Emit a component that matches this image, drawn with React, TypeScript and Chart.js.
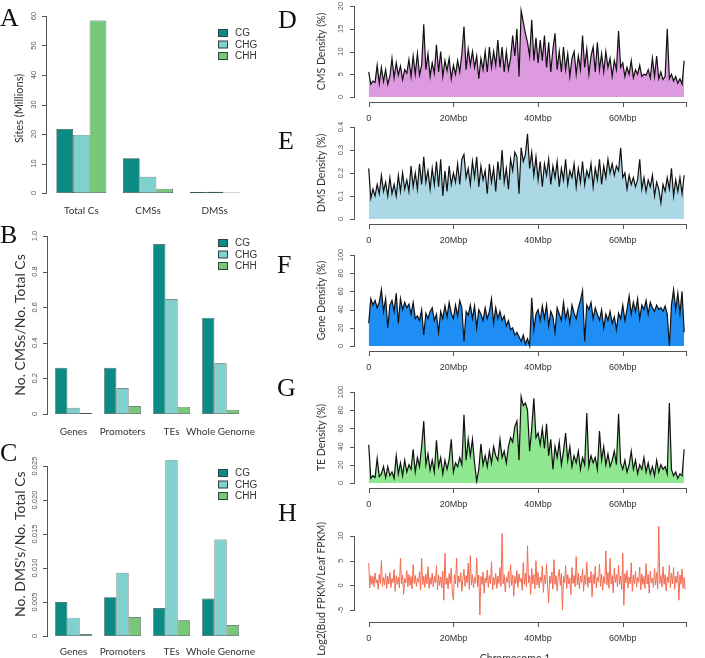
import React, { useEffect, useRef, useState } from "react";
import { Chart, registerables } from "chart.js";
Chart.register(...registerables);

// ---------- shared ----------
const SERIES_LABELS = ["CG", "CHG", "CHH"];
const SERIES_COLORS = ["#0b8b84", "#80d0cd", "#78c878"];
const BAR_BORDER = "#3d5654";
const AXIS_COLOR = "#555";
const TEXT_COLOR = "#333";
const BIN_MBP = 0.5;
const H_BIN_MBP = 0.25;

// ---------- panel A ----------
const A_CATEGORIES = ["Total Cs", "CMSs", "DMSs"];
const A_CG = [21.7, 11.8, 0.3];
const A_CHG = [19.7, 5.5, 0.4];
const A_CHH = [58.5, 1.4, 0.2];
const A_TICKS = [0, 10, 20, 30, 40, 50, 60];
const A_TICK_LABELS = ["0", "10", "20", "30", "40", "50", "60"];

// ---------- panel B ----------
const B_CATEGORIES = ["Genes", "Promoters", "TEs", "Whole Genome"];
const B_CG = [0.26, 0.26, 0.955, 0.54];
const B_CHG = [0.035, 0.146, 0.646, 0.285];
const B_CHH = [0.006, 0.045, 0.04, 0.024];
const B_TICKS = [0, 0.2, 0.4, 0.6, 0.8, 1.0];
const B_TICK_LABELS = ["0", "0.2", "0.4", "0.6", "0.8", "1.0"];

// ---------- panel C ----------
const C_CATEGORIES = ["Genes", "Promoters", "TEs", "Whole Genome"];
const C_CG = [0.005, 0.0057, 0.0041, 0.0055];
const C_CHG = [0.0027, 0.0093, 0.0259, 0.0142];
const C_CHH = [0.0003, 0.0028, 0.0023, 0.0016];
const C_TICKS = [0, 0.005, 0.01, 0.015, 0.02, 0.025];
const C_TICK_LABELS = ["0", "0.005", "0.010", "0.015", "0.020", "0.025"];

// ---------- chromosome x axis ----------
const X_TICKS = [0, 20, 40, 60, 75];
const X_TICK_LABELS = ["0", "20Mbp", "40Mbp", "60Mbp", ""];

// ---------- panel D: CMS density ----------
const D_VALUES = [
  5.5, 2.8, 3.5, 3.2, 7.0, 3.0, 6.5, 3.4, 6.0, 2.8,
  4.5, 8.5, 4.2, 7.5, 4.8, 6.8, 3.8, 6.0, 5.2, 8.2,
  4.5, 9.0, 5.0, 9.5, 4.8, 7.0, 16.0, 6.0, 9.5, 4.5,
  7.5, 5.2, 11.5, 5.5, 10.0, 4.5, 8.0, 5.8, 8.5, 4.0,
  7.0, 5.0, 8.0, 5.5, 9.5, 15.5, 6.0, 10.5, 7.0, 10.0,
  6.5, 9.0, 4.0, 8.5, 6.0, 10.0, 5.5, 11.0, 6.5, 10.0,
  7.0, 12.5, 6.5, 11.0, 5.5, 10.0, 6.0, 8.5, 13.5, 9.0,
  15.0, 4.5, 19.0, 16.5, 14.0, 12.0, 9.0, 17.0, 8.0, 13.0,
  7.5, 12.5, 8.0, 13.5, 6.5, 12.0, 5.5, 10.5, 14.0, 6.0,
  10.0, 5.5, 11.0, 6.0, 9.5, 4.5, 8.5, 10.0, 5.0, 9.0,
  6.0, 13.5, 6.5, 10.5, 5.0, 9.0, 11.0, 5.5, 12.0, 6.0,
  9.5, 5.5, 10.0, 6.5, 8.5, 4.5, 8.0, 6.0, 14.5, 6.5,
  7.5, 4.5, 6.5, 5.0, 8.0, 4.2, 6.0, 5.0, 7.0, 4.5,
  5.0, 4.8, 6.0, 4.2, 8.5, 4.5, 9.0, 4.0, 5.5, 3.8,
  4.5, 15.0, 4.0, 5.0, 3.5, 4.5, 3.0, 4.0, 2.8, 8.0,
];
const D_TICKS = [0, 5, 10, 15, 20];
const D_TICK_LABELS = ["0", "5", "10", "15", "20"];

// ---------- panel E: DMS density ----------
const E_VALUES = [
  0.22, 0.09, 0.13, 0.10, 0.15, 0.11, 0.19, 0.12, 0.16, 0.10,
  0.18, 0.11, 0.15, 0.10, 0.19, 0.12, 0.20, 0.13, 0.17, 0.12,
  0.23, 0.14, 0.20, 0.13, 0.24, 0.15, 0.27, 0.16, 0.21, 0.13,
  0.22, 0.15, 0.25, 0.14, 0.26, 0.10, 0.21, 0.12, 0.23, 0.15,
  0.20, 0.16, 0.24, 0.15, 0.26, 0.28, 0.18, 0.22, 0.15, 0.25,
  0.18, 0.27, 0.14, 0.23, 0.17, 0.21, 0.11, 0.24, 0.16, 0.22,
  0.12, 0.25, 0.17, 0.30, 0.16, 0.22, 0.13, 0.26, 0.21, 0.29,
  0.27, 0.11, 0.31, 0.25, 0.28, 0.37, 0.22, 0.29, 0.19, 0.27,
  0.17, 0.25, 0.14, 0.24, 0.19, 0.26, 0.15, 0.23, 0.18, 0.25,
  0.14, 0.22, 0.17, 0.26, 0.15, 0.21, 0.18, 0.24, 0.14, 0.22,
  0.16, 0.25, 0.15, 0.21, 0.18, 0.24, 0.14, 0.22, 0.17, 0.26,
  0.15, 0.23, 0.18, 0.26, 0.20, 0.24, 0.19, 0.23, 0.21, 0.31,
  0.18, 0.20, 0.13, 0.19, 0.15, 0.18, 0.14, 0.17, 0.26, 0.13,
  0.18, 0.12, 0.17, 0.14, 0.19, 0.10, 0.16, 0.13, 0.07, 0.15,
  0.12, 0.18, 0.13, 0.22, 0.10, 0.17, 0.12, 0.18, 0.11, 0.19,
];
const E_TICKS = [0, 0.1, 0.2, 0.3, 0.4];
const E_TICK_LABELS = ["0", "0.1", "0.2", "0.3", "0.4"];

// ---------- panel F: gene density ----------
const F_VALUES = [
  25, 52, 45, 50, 42, 48, 62, 38, 52, 20,
  45, 50, 38, 58, 25, 52, 40, 48, 42, 46,
  35, 48, 30, 33, 28, 40, 12, 36, 30, 38,
  42, 28, 35, 15, 38, 30, 44, 32, 48, 36,
  30, 45, 33, 50, 42, 5, 38, 34, 45, 30,
  44, 20, 40, 35, 28, 42, 30, 38, 52, 25,
  42, 30, 38, 28, 33, 22, 28, 18, 20, 12,
  15, 10, 5, 12, 2, 8, 0, 53, 18, 35,
  40, 28, 44, 30, 45, 22, 38, 32, 15, 42,
  35, 28, 48, 30, 40, 25, 45, 36, 30, 42,
  50, 61, 5, 45, 40, 48, 30, 42, 35, 28,
  40, 20, 35, 28, 38, 25, 32, 18, 36, 30,
  45, 28, 40, 55, 35, 48, 38, 52, 30, 45,
  40, 50, 35, 48, 42, 38, 45, 40, 42, 38,
  44, 35, 0, 45, 62, 40, 58, 36, 60, 15,
];
const F_TICKS = [0, 20, 40, 60, 80, 100];
const F_TICK_LABELS = ["0", "20", "40", "60", "80", "100"];

// ---------- panel G: TE density ----------
const G_VALUES = [
  42, 5, 8, 6, 27, 7, 10, 18, 6, 18,
  8, 12, 5, 30, 10, 22, 8, 25, 12, 20,
  15, 37, 12, 28, 18, 40, 68, 20, 32, 14,
  25, 12, 47, 18, 28, 10, 25, 15, 26, 48,
  12, 22, 18, 28, 20, 75, 25, 48, 30, 48,
  22, 2, 15, 43, 20, 30, 18, 35, 22, 40,
  30, 25, 48, 28, 35, 22, 40, 50, 45, 62,
  68, 25, 95, 85, 88, 80, 35, 60, 93, 50,
  55, 42, 60, 38, 65, 30, 48, 15, 40, 28,
  45, 20, 35, 55, 25, 40, 18, 30, 22, 35,
  15, 28, 20, 77, 18, 30, 22, 28, 15, 57,
  25, 40, 20, 32, 18, 25, 35, 20, 76, 22,
  15, 25, 12, 20, 35, 15, 25, 10, 20, 15,
  28, 12, 22, 10, 18, 8, 25, 12, 20, 15,
  18, 10, 88, 15, 8, 12, 5, 10, 8, 37,
];
const G_TICKS = [0, 20, 40, 60, 80, 100];
const G_TICK_LABELS = ["0", "20", "40", "60", "80", "100"];

// ---------- panel H: log2 fold change ----------
const H_VALUES = [
  4.5, -0.5, 2.0, 0.2, 1.8, -0.3, 2.5, 0.5, 1.2, -0.8, 2.2, 0.4, 5.0, -0.2, 1.6, 0.1, 2.4, -0.6, 1.9, 0.3,
  2.6, -0.4, 1.5, 0.6, 3.2, -1.2, 2.0, 0.2, 1.7, -0.5, 5.5, 0.3, 2.1, -1.8, 1.4, 0.5, 3.0, -0.3, 2.2, 0.0,
  1.8, -0.7, 4.2, 0.4, 2.0, -0.2, 1.5, 0.6, 2.8, -1.0, 5.5, 0.1, 1.9, -0.4, 2.3, 0.3, 3.8, -0.6, 1.6, 0.2,
  2.5, -0.3, 1.8, 0.5, 4.0, -0.9, 2.1, 0.0, 1.7, -0.5, 2.9, -3.0, 6.5, 0.2, 1.5, -0.7, 2.4, 0.4, 3.5, -1.5,
  -3.0, 2.2, 0.3, 5.5, -0.4, 1.9, 0.6, 2.6, -1.2, 1.4, 3.3, -0.2, 2.0, 0.5, 4.5, -0.8, 6.0, 0.1, 2.2, -0.5,
  1.6, 0.4, 5.5, -0.3, 2.1, -6.0, 1.8, 0.2, 2.7, -1.6, 1.5, 0.5, 3.1, -0.4, 2.0, 0.3, 4.8, -0.9, 1.7, 0.1,
  2.4, -0.6, 1.9, 0.4, 3.6, -0.2, 10.5, 0.3, 2.2, -1.3, 1.6, 0.6, 2.8, -0.5, 4.2, 0.0, 2.1, -2.2, 1.8, 0.4,
  3.0, -0.4, 2.3, 0.7, 1.5, -1.0, 4.6, 0.2, 2.5, -0.3, 8.0, 0.5, 2.0, -1.8, 3.4, 0.3, 2.2, -0.7, 5.0, 0.1,
  2.6, -0.5, 1.7, 0.6, 3.9, -1.4, 2.1, 0.3, 4.4, -0.2, -3.5, 1.9, 0.4, 2.7, -0.8, 5.2, 0.2, 2.0, -1.1, 1.6,
  3.2, 0.0, 2.4, -5.0, 1.8, 0.5, 4.0, -0.6, 2.2, 0.3, 1.5, -1.9, 3.6, 0.4, 2.0, -0.3, 5.8, 0.1, 2.5, -0.7,
  1.9, 0.6, 3.3, -1.2, 2.1, 0.2, 4.7, -0.4, 1.7, 0.5, 2.8, -2.3, 2.2, 0.3, 3.9, -0.5, 1.6, 0.7, 4.3, -0.2,
  2.3, -1.0, 1.8, 0.4, 7.0, 0.1, 2.6, -0.6, 5.5, 0.3, 2.0, -1.5, 3.5, 0.6, 2.2, -0.3, 4.1, 0.2, 1.9, -0.8,
  6.5, -4.0, 2.4, 0.5, 3.0, -0.5, 1.7, 0.3, 4.6, -1.2, 2.1, 0.4, 2.8, -0.3, 1.6, 0.6, 3.7, -0.9, 2.3, 0.2,
  1.8, -0.6, 4.4, 0.3, 2.2, -1.6, 2.9, 0.5, 1.5, -0.4, 3.4, 0.1, 2.6, -0.7, 12.0, 0.4, 2.0, -0.3, 3.8, 0.2,
  2.2, -1.1, 1.7, 0.6, 4.1, -0.4, 2.5, 0.3, 3.6, -0.8, 1.9, 0.5, 2.8, -3.0, 2.1, 0.2, 3.3, -0.6, 1.6, -0.8,
];
const H_TICKS = [-5, 0, 5, 10];
const H_TICK_LABELS = ["-5", "0", "5", "10"];

// ---------- R-style axis line geometry, taken from the chart's own scales ----------
function axisSegments(chart: any, o: any) {
  const { chartArea: ca, scales } = chart;
  const xs = scales.x;
  const ys = scales.y;
  const segs: any[] = [];
  const ax = Math.round(ca.left) - 2;
  const yt: number[] = o.yTicks;
  const yA = Math.round(ys.getPixelForValue(yt[0]));
  const yB = Math.round(ys.getPixelForValue(yt[yt.length - 1]));
  segs.push({ left: ax, top: Math.min(yA, yB), width: 1, height: Math.abs(yA - yB) + 1 });
  yt.forEach((v) => {
    const p = Math.round(ys.getPixelForValue(v));
    segs.push({ left: ax - 4, top: p, width: 4, height: 1 });
  });
  if (o.xTicks) {
    const by = Math.round(ca.bottom) + 1;
    const xt: number[] = o.xTicks;
    const xA = Math.round(xs.getPixelForValue(xt[0]));
    const xB = Math.round(xs.getPixelForValue(xt[xt.length - 1]));
    segs.push({ left: xA, top: by, width: xB - xA + 1, height: 1 });
    xt.forEach((v) => {
      const p = Math.round(xs.getPixelForValue(v));
      segs.push({ left: p, top: by, width: 1, height: 5 });
    });
  }
  return segs;
}

// ---------- R-style text plugin ----------
const rStyle = {
  id: "rStyle",
  afterDraw(chart: any, _args: any, o: any) {
    const { ctx, chartArea: ca, scales } = chart;
    const xs = scales.x;
    const ys = scales.y;
    const ax = Math.round(ca.left) - 1.5;
    const yt: number[] = o.yTicks;
    ctx.save();

    ctx.fillStyle = "#555";
    ctx.font = o.tickFont;
    ctx.textAlign = "center";
    ctx.textBaseline = "middle";
    yt.forEach((v, i) => {
      ctx.save();
      ctx.translate(ax - o.tickGap, ys.getPixelForValue(v));
      ctx.rotate(-Math.PI / 2);
      ctx.fillText(o.yTickLabels[i], 0, 0);
      ctx.restore();
    });

    ctx.fillStyle = TEXT_COLOR;
    ctx.font = o.titleFont;
    ctx.save();
    ctx.translate(ax - o.titleGap, (ca.top + ca.bottom) / 2 + (o.titleShift || 0));
    ctx.rotate(-Math.PI / 2);
    ctx.fillText(o.yTitle, 0, 0);
    ctx.restore();

    if (o.xTicks) {
      const by = Math.round(ca.bottom) + 1;
      ctx.fillStyle = TEXT_COLOR;
      ctx.font = o.xTickFont;
      ctx.textAlign = "center";
      ctx.textBaseline = "middle";
      (o.xTicks as number[]).forEach((v, i) => {
        ctx.fillText(o.xTickLabels[i], xs.getPixelForValue(v), by + 17);
      });
    }

    if (o.categoryLabels) {
      ctx.fillStyle = TEXT_COLOR;
      ctx.font = o.categoryFont;
      ctx.textAlign = "center";
      ctx.textBaseline = "middle";
      const base = ys.getPixelForValue(0);
      o.categoryLabels.forEach((lab: string, i: number) => {
        ctx.fillText(lab, xs.getPixelForValue(i), base + o.categoryGap);
      });
    }

    if (o.legendX !== undefined) {
      ctx.font = "10px 'Liberation Sans', Arial, sans-serif";
      ctx.textAlign = "left";
      ctx.textBaseline = "middle";
      chart.data.datasets.forEach((ds: any, i: number) => {
        const cy = o.legendY + i * 11.5;
        ctx.fillStyle = "#2f4240";
        ctx.fillRect(o.legendX, cy - 4, 10, 8);
        ctx.fillStyle = ds.backgroundColor;
        ctx.fillRect(o.legendX + 1, cy - 3, 8, 6);
        ctx.fillStyle = TEXT_COLOR;
        ctx.fillText(ds.label, o.legendX + 17, cy + 0.5);
      });
    }

    if (o.xTitle) {
      ctx.fillStyle = TEXT_COLOR;
      ctx.font = o.xTitleFont;
      ctx.textAlign = "center";
      ctx.textBaseline = "top";
      ctx.fillText(o.xTitle, o.xTitleX, o.xTitleY);
    }
    ctx.restore();
  },
};

function barConfig(
  categories: string[],
  cg: number[],
  chg: number[],
  chh: number[],
  yMax: number,
  padding: any,
  opts: any
) {
  return {
    type: "bar",
    data: {
      labels: categories,
      datasets: [cg, chg, chh].map((d, i) => ({
        label: SERIES_LABELS[i],
        data: d,
        backgroundColor: SERIES_COLORS[i],
        borderColor: BAR_BORDER,
        borderWidth: 0.7,
        borderSkipped: false,
        categoryPercentage: 0.75,
        barPercentage: 1,
      })),
    },
    options: {
      responsive: false,
      maintainAspectRatio: false,
      animation: false,
      layout: { padding },
      plugins: {
        legend: { display: false },
        tooltip: { enabled: false },
        rStyle: {
          categoryLabels: categories,
          categoryFont: "10px Lato, sans-serif",
          categoryGap: 18,
          tickFont: "7.5px 'Liberation Sans', Arial, sans-serif",
          tickGap: 12.5,
          titleGap: 27,
          ...opts,
        },
      },
      scales: {
        x: { display: false },
        y: { display: false, min: 0, max: yMax },
      },
    },
    plugins: [rStyle],
  };
}

function lineConfig(
  values: number[],
  step: number,
  fillColor: string | null,
  lineColor: string,
  lineWidth: number,
  yMin: number,
  yMax: number,
  padding: any,
  opts: any
) {
  const points = values.map((v, i) => ({ x: i * step, y: v }));
  return {
    type: "line",
    data: {
      datasets: [
        {
          data: points,
          borderColor: lineColor,
          borderWidth: lineWidth,
          backgroundColor: fillColor || "transparent",
          fill: fillColor ? "origin" : false,
          pointRadius: 0,
          tension: 0,
        },
      ],
    },
    options: {
      responsive: false,
      maintainAspectRatio: false,
      animation: false,
      layout: { padding },
      plugins: {
        legend: { display: false },
        tooltip: { enabled: false },
        rStyle: {
          xTicks: X_TICKS,
          xTickLabels: X_TICK_LABELS,
          xTickFont: "9px 'Liberation Sans', Arial, sans-serif",
          tickFont: "7.5px 'Liberation Sans', Arial, sans-serif",
          tickGap: 13.5,
          titleGap: 33,
          titleFont: "10.5px Lato, sans-serif",
          ...opts,
        },
      },
      scales: {
        x: { type: "linear", display: false, min: -3, max: 78 },
        y: { display: false, min: yMin, max: yMax },
      },
    },
    plugins: [rStyle],
  };
}

function Panel({ left, top, width, height, make }: any) {
  const ref = useRef<HTMLCanvasElement>(null);
  const [segs, setSegs] = useState<any[]>([]);
  useEffect(() => {
    const cfg: any = make();
    const chart = new Chart(ref.current as HTMLCanvasElement, cfg);
    setSegs(axisSegments(chart, cfg.options.plugins.rStyle));
    return () => chart.destroy();
  }, []);
  return (
    <div style={{ position: "absolute", left, top, width, height }}>
      <canvas
        ref={ref}
        width={width}
        height={height}
        style={{ position: "absolute", left: 0, top: 0, width, height, display: "block" }}
      />
      {segs.map((s, i) => (
        <div
          key={i}
          style={{
            position: "absolute",
            left: s.left,
            top: s.top,
            width: s.width,
            height: s.height,
            background: AXIS_COLOR,
          }}
        />
      ))}
    </div>
  );
}

const LETTERS = [
  { t: "A", x: 0, y: 5 },
  { t: "B", x: 0, y: 222 },
  { t: "C", x: 0, y: 440 },
  { t: "D", x: 278, y: 7 },
  { t: "E", x: 278, y: 128 },
  { t: "F", x: 277, y: 252 },
  { t: "G", x: 277, y: 375 },
  { t: "H", x: 278, y: 500 },
];

export default function App() {
  return (
    <div
      style={{
        position: "absolute",
        left: 0,
        top: 0,
        width: 705,
        height: 658,
        background: "#fff",
        overflow: "hidden",
      }}
    >
      <Panel
        left={0}
        top={0}
        width={300}
        height={220}
        make={() =>
          barConfig(A_CATEGORIES, A_CG, A_CHG, A_CHH, 60, { left: 48, right: 52, top: 16, bottom: 27 }, {
            yTicks: A_TICKS,
            yTickLabels: A_TICK_LABELS,
            yTitle: "Sites (Millions)",
            titleFont: "11px Lato, sans-serif",
            titleShift: 4,
            legendX: 218,
            legendY: 33,
          })
        }
      />
      <Panel
        left={0}
        top={220}
        width={300}
        height={220}
        make={() =>
          barConfig(B_CATEGORIES, B_CG, B_CHG, B_CHH, 1.0, { left: 49, right: 55, top: 16, bottom: 26 }, {
            yTicks: B_TICKS,
            yTickLabels: B_TICK_LABELS,
            yTitle: "No. CMSs/No. Total Cs",
            titleFont: "14px Lato, sans-serif",
            legendX: 218,
            legendY: 23,
          })
        }
      />
      <Panel
        left={0}
        top={440}
        width={300}
        height={218}
        make={() =>
          barConfig(C_CATEGORIES, C_CG, C_CHG, C_CHH, 0.027, { left: 49, right: 55, top: 12.4, bottom: 22 }, {
            yTicks: C_TICKS,
            yTickLabels: C_TICK_LABELS,
            yTitle: "No. DMS's/No. Total Cs",
            titleFont: "14px Lato, sans-serif",
            categoryGap: 16,
            legendX: 218,
            legendY: 33,
          })
        }
      />
      <Panel
        left={300}
        top={0}
        width={405}
        height={122}
        make={() =>
          lineConfig(D_VALUES, BIN_MBP, "#dd9ade", "#111", 1.2, -0.8, 20.8, { left: 56, right: 6, top: 2.4, bottom: 21.4 }, {
            yTicks: D_TICKS,
            yTickLabels: D_TICK_LABELS,
            yTitle: "CMS Density (%)",
          })
        }
      />
      <Panel
        left={300}
        top={122}
        width={405}
        height={125}
        make={() =>
          lineConfig(E_VALUES, BIN_MBP, "#acd8e6", "#111", 1.2, -0.016, 0.416, { left: 56, right: 6, top: 1.3, bottom: 24.3 }, {
            yTicks: E_TICKS,
            yTickLabels: E_TICK_LABELS,
            yTitle: "DMS Density (%)",
          })
        }
      />
      <Panel
        left={300}
        top={247}
        width={405}
        height={137}
        make={() =>
          lineConfig(F_VALUES, BIN_MBP, "#1e8ef5", "#111", 1.2, -4, 104, { left: 56, right: 6, top: 4.4, bottom: 34.4 }, {
            yTicks: F_TICKS,
            yTickLabels: F_TICK_LABELS,
            yTitle: "Gene Density (%)",
          })
        }
      />
      <Panel
        left={300}
        top={384}
        width={405}
        height={132}
        make={() =>
          lineConfig(G_VALUES, BIN_MBP, "#8fe88f", "#111", 1.2, -4, 104, { left: 56, right: 6, top: 4.4, bottom: 29.4 }, {
            yTicks: G_TICKS,
            yTickLabels: G_TICK_LABELS,
            yTitle: "TE Density (%)",
          })
        }
      />
      <Panel
        left={300}
        top={516}
        width={405}
        height={142}
        make={() =>
          lineConfig(H_VALUES, H_BIN_MBP, null, "#f26b50", 1, -7.2, 12.7, { left: 56, right: 6, top: 6.6, bottom: 37 }, {
            yTicks: H_TICKS,
            yTickLabels: H_TICK_LABELS,
            yTitle: "Log2(Bud FPKM/Leaf FPKM)",
            titleShift: 17,
            xTitle: "Chromosome 1",
            xTitleFont: "10.5px Lato, sans-serif",
            xTitleX: 215,
            xTitleY: 137,
          })
        }
      />
      {LETTERS.map((l) => (
        <div
          key={l.t}
          style={{
            position: "absolute",
            left: l.x,
            top: l.y,
            fontFamily: "'Liberation Serif', 'DejaVu Serif', serif",
            fontSize: 26,
            lineHeight: "26px",
            color: "#111",
          }}
        >
          {l.t}
        </div>
      ))}
    </div>
  );
}
